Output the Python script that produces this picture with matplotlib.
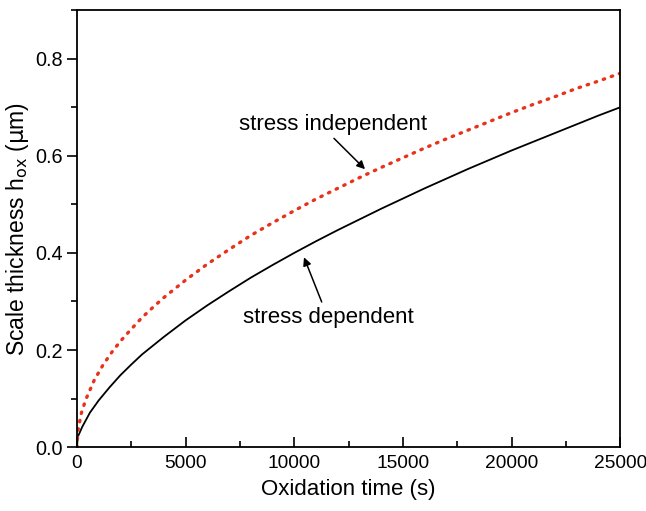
import matplotlib
matplotlib.use("Agg")
import matplotlib.pyplot as plt
from matplotlib.ticker import MultipleLocator

plt.rcParams['font.family'] = ['Liberation Sans', 'DejaVu Sans']

# stress dependent (black solid)
t_dep = [0, 50, 250, 600, 1000, 1500, 2000, 2500, 3000, 4000, 5000, 6000, 7000, 8000,
         9000, 10000, 11000, 12000, 13000, 14000, 15000, 16000, 17000, 18000, 19000,
         20000, 21000, 22000, 23000, 24000, 25000]
h_dep = [0.0, 0.022, 0.042, 0.071, 0.096, 0.123, 0.148, 0.170, 0.191, 0.227, 0.261, 0.292,
         0.321, 0.349, 0.375, 0.400, 0.424, 0.447, 0.469, 0.491, 0.512, 0.533, 0.553,
         0.573, 0.592, 0.611, 0.629, 0.647, 0.665, 0.683, 0.700]

# stress independent (red dotted)
t_ind = [0, 50, 200, 400, 800, 1200, 1600, 2000, 2500, 3000, 3500, 4000, 5000, 6000,
         7000, 8000, 9000, 10000, 11000, 12000, 13000, 14000, 15000, 16000, 17000,
         18000, 19000, 20000, 21000, 22000, 23000, 24000, 25000]
h_ind = [0.0, 0.034, 0.069, 0.097, 0.138, 0.169, 0.195, 0.218, 0.243, 0.267, 0.288, 0.308,
         0.344, 0.377, 0.407, 0.436, 0.462, 0.487, 0.511, 0.533, 0.555, 0.576, 0.596,
         0.616, 0.635, 0.653, 0.671, 0.689, 0.706, 0.722, 0.739, 0.754, 0.770]

fig = plt.figure(figsize=(6.46, 5.11), dpi=100)
ax = fig.add_axes([0.119, 0.125, 0.841, 0.855])

ax.plot(t_dep, h_dep, color='black', lw=1.3)
ax.plot(t_ind, h_ind, color='#e8321a', lw=2.4, linestyle=(0, (0.45, 2.1)),
        dash_capstyle='round')

ax.set_xlim(0, 25000)
ax.set_ylim(0, 0.9)
ax.xaxis.set_major_locator(MultipleLocator(5000))
ax.xaxis.set_minor_locator(MultipleLocator(2500))
ax.yaxis.set_minor_locator(MultipleLocator(0.1))
ax.set_yticks([0.0, 0.2, 0.4, 0.6, 0.8])
ax.set_yticklabels(['0.0', '0.2', '0.4', '0.6', '0.8'])

ax.tick_params(axis='x', which='major', direction='in', length=7, width=1.2, labelsize=13.8, pad=6)
ax.tick_params(axis='x', which='minor', direction='in', length=4, width=1.2)
ax.tick_params(axis='y', which='major', direction='out', length=7, width=1.2, labelsize=14.3, pad=3)
ax.tick_params(axis='y', which='minor', direction='out', length=4, width=1.2)
for s in ax.spines.values():
    s.set_linewidth(1.3)

ax.set_xlabel('Oxidation time (s)', fontsize=16, labelpad=5)
ax.set_ylabel(r'Scale thickness h$_{\mathrm{ox}}$ ($\mathrm{\mu}$m)', fontsize=16.5, labelpad=3)

arrow = dict(arrowstyle='-|>', color='black', lw=1.1, shrinkA=0, shrinkB=0,
             mutation_scale=12)
ax.text(11790, 0.664, 'stress independent', fontsize=16, ha='center', va='center')
ax.annotate('', xy=(13260, 0.5725), xytext=(11832, 0.636), arrowprops=arrow)
ax.text(11590, 0.266, 'stress dependent', fontsize=16, ha='center', va='center')
ax.annotate('', xy=(10451, 0.391), xytext=(11266, 0.299), arrowprops=arrow)

fig.savefig('out.png', dpi=100)
